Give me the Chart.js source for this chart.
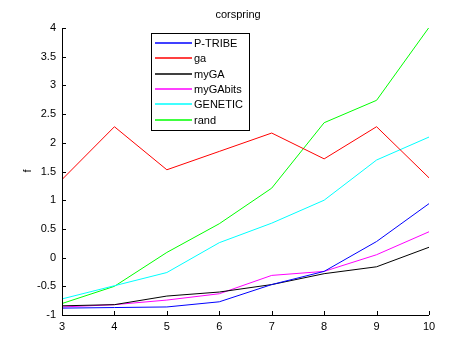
<!DOCTYPE html>
<html>
<head>
<meta charset="utf-8">
<script src="https://cdn.jsdelivr.net/npm/chart.js@4/dist/chart.umd.min.js"></script>
<style>
html,body{margin:0;padding:0;background:#fff;}
#wrap{width:474px;height:355px;}
</style>
</head>
<body>
<div id="wrap"><canvas id="c" width="474" height="355"></canvas></div>
<script>
const titleText = "corspring";
const yLabel = "f";
const categories = [3, 4, 5, 6, 7, 8, 9, 10];
const seriesNames = ["P-TRIBE", "ga", "myGA", "myGAbits", "GENETIC", "rand"];
const seriesColors = ["#0000ff", "#ff0000", "#000000", "#ff00ff", "#00ffff", "#00ff00"];
const pTribe   = [-0.88, -0.87, -0.86, -0.77, -0.47, -0.24, 0.28, 0.94];
const ga       = [1.36, 2.28, 1.53, 1.85, 2.17, 1.72, 2.28, 1.39];
const myGA     = [-0.84, -0.82, -0.67, -0.60, -0.47, -0.28, -0.16, 0.18];
const myGAbits = [-0.86, -0.82, -0.74, -0.63, -0.31, -0.24, 0.05, 0.45];
const genetic  = [-0.72, -0.49, -0.26, 0.26, 0.60, 1.00, 1.70, 2.10];
const rand     = [-0.80, -0.50, 0.09, 0.59, 1.21, 2.35, 2.74, 4.01];
const yTickMin = -1, yTickMax = 4, yTickStep = 0.5;
const xTickMin = 3, xTickMax = 10, xTickStep = 1;

const seriesValues = [pTribe, ga, myGA, myGAbits, genetic, rand];
const FONT = "Liberation Sans, Arial, Helvetica, sans-serif";

const datasets = seriesNames.map((name, i) => ({
  label: name,
  data: categories.map((x, j) => ({x: x, y: seriesValues[i][j]})),
  borderColor: seriesColors[i],
  backgroundColor: seriesColors[i],
  borderWidth: 1,
  pointRadius: 0,
  tension: 0,
  fill: false
}));

const decor = {
  id: 'decor',
  afterDraw(chart) {
    const ctx = chart.ctx;
    const xs = chart.scales.x, ys = chart.scales.y;
    const a = chart.chartArea;
    ctx.save();
    ctx.strokeStyle = "#000";
    ctx.lineWidth = 1;
    ctx.beginPath();
    ctx.moveTo(a.left + 0.5, a.top);
    ctx.lineTo(a.left + 0.5, a.bottom + 0.5);
    ctx.lineTo(a.right, a.bottom + 0.5);
    ctx.stroke();
    ctx.beginPath();
    xs.ticks.forEach(t => {
      const px = Math.round(xs.getPixelForValue(t.value)) + 0.5;
      ctx.moveTo(px, a.bottom);
      ctx.lineTo(px, a.bottom - 4);
    });
    ys.ticks.forEach(t => {
      const py = Math.round(ys.getPixelForValue(t.value)) + 0.5;
      ctx.moveTo(a.left, py);
      ctx.lineTo(a.left + 4, py);
    });
    ctx.stroke();
    ctx.fillStyle = "#000";
    ctx.font = "11px " + FONT;
    ctx.textAlign = "center";
    ctx.textBaseline = "middle";
    ctx.fillText(titleText, 238, 15);
    ctx.save();
    ctx.translate(28, 171);
    ctx.rotate(-Math.PI / 2);
    ctx.fillText(yLabel, 0, 0);
    ctx.restore();
    const lx = 151, ly = 33, lw = 98, lh = 97;
    ctx.fillStyle = "#fff";
    ctx.fillRect(lx, ly, lw, lh);
    ctx.strokeStyle = "#000";
    ctx.strokeRect(lx + 0.5, ly + 0.5, lw, lh);
    ctx.textAlign = "left";
    seriesNames.forEach((name, i) => {
      const y = 43 + i * 15.3;
      ctx.beginPath();
      ctx.strokeStyle = seriesColors[i];
      ctx.lineWidth = 1.5;
      ctx.moveTo(155, Math.round(y));
      ctx.lineTo(192, Math.round(y));
      ctx.stroke();
      ctx.fillStyle = "#000";
      ctx.fillText(name, 194, y + 1);
    });
    ctx.restore();
  }
};

const fmt = v => String(Math.round(v * 10) / 10);

new Chart(document.getElementById('c'), {
  type: 'line',
  data: { datasets: datasets },
  options: {
    responsive: false,
    animation: false,
    devicePixelRatio: 1,
    layout: { padding: { top: 28, right: 45, left: 0, bottom: 0 } },
    plugins: { legend: { display: false }, title: { display: false }, tooltip: { enabled: false } },
    scales: {
      x: {
        type: 'linear',
        min: xTickMin, max: xTickMax,
        grid: { display: false, drawTicks: false },
        border: { display: false },
        ticks: { stepSize: xTickStep, color: "#000", padding: 5, font: { family: FONT, size: 11 }, callback: fmt },
        afterFit(s) { s.height = 40; }
      },
      y: {
        type: 'linear',
        min: yTickMin, max: yTickMax,
        grid: { display: false, drawTicks: false },
        border: { display: false },
        ticks: { stepSize: yTickStep, color: "#000", padding: 6, font: { family: FONT, size: 11 }, callback: fmt },
        afterFit(s) { s.width = 62; }
      }
    }
  },
  plugins: [decor]
});
</script>
</body>
</html>
